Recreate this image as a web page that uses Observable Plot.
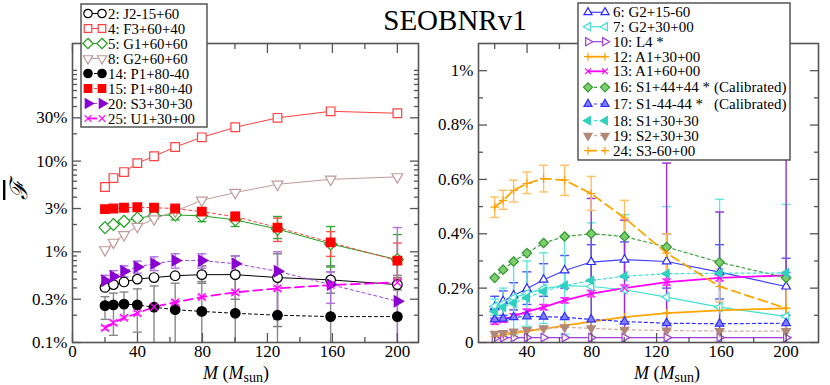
<!DOCTYPE html>
<html><head><meta charset="utf-8">
<script src="https://cdn.jsdelivr.net/npm/d3@7"></script>
<script src="https://cdn.jsdelivr.net/npm/@observablehq/plot@0.6"></script>
<style>
body{margin:0;background:#fff;}
#wrap{position:relative;width:830px;height:385px;overflow:hidden;background:#fff;}
</style></head><body><div id="wrap"></div>
<script>
// ---------- data ----------
const M = [20, 25.2, 31.7, 39.9, 50.2, 63.2, 79.6, 100.2, 126.2, 158.9, 200];

// left panel (percent, log scale)
const f2    = [0.405,0.435,0.465,0.50,0.52,0.545,0.56,0.56,0.52,0.49,0.435];
const f2lo  = [null,null,null,null,null,null,0.45,0.30,0.15,0.35,0.38];
const f2hi  = [null,null,null,null,null,null,0.70,0.90,0.95,0.70,0.52];
const f4    = [5.18,6.5,7.57,9.5,11.3,14.3,18.3,23.6,30.0,35.4,33.7];
const f5    = [1.85,2.0,2.17,2.35,2.5,2.55,2.49,2.25,1.78,1.22,0.82];
const f5lo  = [null,null,null,2.2,2.3,2.25,2.15,1.9,1.4,0.68,0.45];
const f5hi  = [null,null,null,2.5,2.7,2.8,2.75,2.6,2.45,1.9,1.55];
const f8    = [1.05,1.27,1.54,1.9,2.3,2.8,3.7,4.5,5.55,6.3,6.7];
const f14   = [0.255,0.26,0.265,0.26,0.245,0.23,0.22,0.21,0.20,0.193,0.193];
const f14lo = [0.18,0.12,0.18,0.13,0.08,0.08,0.08,0.08,0.08,0.08,0.08];
const f14hi = [0.32,0.35,0.36,0.39,0.42,0.45,0.47,0.53,0.55,0.60,0.55];
const f15   = [2.95,3.0,3.06,3.1,3.06,3.0,2.77,2.44,1.85,1.27,0.80];
const f15lo = [null,null,null,null,null,null,null,2.15,1.3,0.89,0.5];
const f15hi = [null,null,null,null,null,null,null,2.75,2.35,1.67,1.25];
const f20   = [0.48,0.535,0.61,0.68,0.74,0.80,0.80,0.74,0.61,0.435,0.285];
const f20lo = [0.42,0.47,0.53,0.58,0.62,0.66,0.66,0.60,0.18,0.27,0.08];
const f20hi = [0.55,0.62,0.70,0.79,0.88,0.95,0.95,0.90,1.0,0.60,1.85];
const f25   = [0.145,0.165,0.187,0.21,0.247,0.277,0.318,0.357,0.395,0.43,0.46];
const f25lo = [0.138,0.157,0.178,0.20,0.235,0.264,0.303,0.34,0.376,0.41,0.44];
const f25hi = [0.152,0.173,0.196,0.22,0.259,0.29,0.333,0.374,0.414,0.45,0.48];

// right panel (percent, linear)
const g6    = [0.13,0.152,0.173,0.198,0.231,0.265,0.296,0.305,0.298,0.259,0.206];
const g6lo  = [0.09,0.10,0.12,0.14,0.17,0.20,0.23,0.24,0.20,0.16,0.10];
const g6hi  = [0.17,0.19,0.22,0.26,0.29,0.32,0.36,0.37,0.40,0.36,0.31];
const g7    = [0.133,0.142,0.165,0.18,0.198,0.209,0.206,0.194,0.167,0.13,0.096];
const g7lo  = [0.10,0.09,0.03,0.06,0.07,0.03,0,0,0,0,0];
const g7hi  = [0.16,0.20,0.30,0.30,0.33,0.39,0.44,0.47,0.50,0.527,0.508];
const g10   = [0.015,0.018,0.018,0.018,0.018,0.018,0.018,0.018,0.018,0.018,0.018];
const g10lo = [null,null,null,null,null,null,0,0,0,0,0];
const g10hi = [null,null,null,null,null,null,0.53,0.45,0.66,0.48,1.2];
const g12   = [0.022,0.028,0.035,0.042,0.05,0.062,0.077,0.093,0.108,0.118,0.126];
const g13   = [0.075,0.083,0.096,0.114,0.13,0.155,0.18,0.20,0.222,0.238,0.247];
const g13lo = [0.067,0.074,0.087,0.105,0.12,0.145,0.168,0.188,0.21,0.226,0.236];
const g13hi = [0.083,0.092,0.105,0.123,0.14,0.165,0.192,0.212,0.234,0.25,0.258];
const g16   = [0.238,0.268,0.298,0.329,0.366,0.39,0.40,0.39,0.351,0.295,0.238];
const g17   = [0.085,0.088,0.093,0.096,0.095,0.093,0.085,0.077,0.071,0.069,0.071];
const g18   = [0.114,0.13,0.145,0.165,0.188,0.209,0.228,0.244,0.253,0.255,0.256];
const g19   = [0.032,0.035,0.04,0.046,0.052,0.056,0.052,0.047,0.044,0.042,0.042];
const g24   = [0.498,0.523,0.56,0.585,0.603,0.597,0.548,0.458,0.329,0.206,0.126];
const g24lo = [0.46,0.49,0.517,0.548,0.554,0.541,0.486,0.388,0.254,0.15,0.05];
const g24hi = [0.535,0.56,0.597,0.627,0.652,0.652,0.611,0.523,0.40,0.27,0.20];

const leftTicksY = [0.1, 0.3, 1, 3, 10, 30];
const leftMinorY = [0.2,0.4,0.5,0.6,0.7,0.8,0.9,2,4,5,6,7,8,9,20,40,50,60,70,80,90,100];
const leftTicksX = [0, 40, 80, 120, 160, 200];
const leftMinorX = [20, 60, 100, 140, 180];
const rightTicksY = [0, 0.2, 0.4, 0.6, 0.8, 1];
const rightMinorY = [0.1, 0.3, 0.5, 0.7, 0.9];
const rightTicksX = [40, 80, 120, 160, 200];
const rightMinorX = [20, 60, 100, 140, 180];

// ---------- symbols ----------
function tri(rot){return {draw(c,s){const R=Math.sqrt(s/Math.PI)*1.3;for(let k=0;k<3;k++){const a=rot+k*2*Math.PI/3,x=R*Math.cos(a),y=R*Math.sin(a);k?c.lineTo(x,y):c.moveTo(x,y);}c.closePath();}};}
const SYM = {
  circle:{draw(c,s){const r=Math.sqrt(s/Math.PI);c.moveTo(r,0);c.arc(0,0,r,0,2*Math.PI);}},
  square:{draw(c,s){const r=Math.sqrt(s/Math.PI)*0.9;c.rect(-r,-r,2*r,2*r);}},
  diamond:{draw(c,s){const r=Math.sqrt(s/Math.PI)*1.25;c.moveTo(0,-r);c.lineTo(r,0);c.lineTo(0,r);c.lineTo(-r,0);c.closePath();}},
  up:tri(-Math.PI/2), down:tri(Math.PI/2), left:tri(Math.PI), right:tri(0),
  times:{draw(c,s){const r=Math.sqrt(s/Math.PI)*0.8;c.moveTo(-r,-r);c.lineTo(r,r);c.moveTo(r,-r);c.lineTo(-r,r);}},
  plus:{draw(c,s){const r=Math.sqrt(s/Math.PI)*1.1;c.moveTo(-r,0);c.lineTo(r,0);c.moveTo(0,-r);c.lineTo(0,r);}},
  cap:{draw(c){c.moveTo(-4.5,0);c.lineTo(4.5,0);}}
};

// ---------- series styling ----------
const leftSeries = [
  {name:"2: J2-15+60",  v:f2,  lo:f2lo,  hi:f2hi,  sym:"circle", stroke:"#000",    fill:"#fff",    line:"#000",    dash:null,  lw:1,   err:"#777"},
  {name:"4: F3+60+40",  v:f4,  sym:"square", stroke:"#ff4040", fill:"#fff", line:"#ff4040", dash:null, lw:1, err:"#ff6666"},
  {name:"5: G1+60+60",  v:f5,  lo:f5lo,  hi:f5hi,  sym:"diamond",stroke:"#22a022", fill:"#fff",    line:"#22a022", dash:null,  lw:1,   err:"#33aa33"},
  {name:"8: G2+60+60",  v:f8,  sym:"down", stroke:"#c09a9a", fill:"#fff", line:"#c09a9a", dash:null, lw:1, err:"#c09a9a"},
  {name:"14: P1+80-40", v:f14, lo:f14lo, hi:f14hi, sym:"circle", stroke:"#000",    fill:"#000",    line:"#000",    dash:"3,3", lw:1,   err:"#888"},
  {name:"15: P1+80+40", v:f15, lo:f15lo, hi:f15hi, sym:"square", stroke:"#ff0000", fill:"#ff0000", line:"#ff4040", dash:"3,3", lw:1,   err:"#ff5050"},
  {name:"20: S3+30+30", v:f20, lo:f20lo, hi:f20hi, sym:"right",  stroke:"#8a00d0", fill:"#8a00d0", line:"#a040e0", dash:"3,3", lw:1,   err:"#b070e0"},
  {name:"25: U1+30+00", v:f25, lo:f25lo, hi:f25hi, sym:"times",  stroke:"#ff00ff", fill:"none",    line:"#ff00ff", dash:"9,5", lw:1.8, err:"#ff60ff"}
];
const rightSeries = [
  {name:"6: G2+15-60",  v:g6,  lo:g6lo,  hi:g6hi,  sym:"up",     stroke:"#2a2aff", fill:"#fff",    line:"#4040ff", dash:null,  lw:1.2, err:"#5050ff"},
  {name:"7: G2+30+00",  v:g7,  lo:g7lo,  hi:g7hi,  sym:"left",   stroke:"#40e0d0", fill:"#fff",    line:"#40e0d0", dash:null,  lw:1.2, err:"#60e8dc"},
  {name:"10: L4 *",     v:g10, lo:g10lo, hi:g10hi, sym:"right",  stroke:"#a040d8", fill:"#fff",    line:"#a040d8", dash:null,  lw:1.2, err:"#9a30d0"},
  {name:"12: A1+30+00", v:g12, sym:"plus", stroke:"#ffa000", fill:"none", line:"#ffa500", dash:null, lw:1.8, err:"#ffb030"},
  {name:"13: A1+60+00", v:g13, lo:g13lo, hi:g13hi, sym:"times",  stroke:"#ff00ff", fill:"none",    line:"#ff00ff", dash:null,  lw:1.8, err:"#ff40ff"},
  {name:"16: S1+44+44 *", cal:true, v:g16, sym:"diamond", stroke:"#2e9a2e", fill:"#80cc70", line:"#40a040", dash:"3,3", lw:1.2, err:"#40a040"},
  {name:"17: S1-44-44 *", cal:true, v:g17, sym:"up",      stroke:"#3030ff", fill:"#8080ff", line:"#3030ff", dash:"3,3", lw:1.2, err:"#5050ff"},
  {name:"18: S1+30+30", v:g18, sym:"left", stroke:"#30d0c0", fill:"#30d0c0", line:"#40e0d0", dash:"3,3", lw:1.2, err:"#40e0d0"},
  {name:"19: S2+30+30", v:g19, sym:"down", stroke:"#b08878", fill:"#b08878", line:"#d0a8a0", dash:"3,3", lw:1.2, err:"#b08878"},
  {name:"24: S3-60+00", v:g24, lo:g24lo, hi:g24hi, sym:"plus",   stroke:"#ffa000", fill:"none",    line:"#ffa500", dash:"9,5", lw:1.8, err:"#ffc060"}
];

function rowsOf(s){return M.map((m,i)=>({M:m, v:s.v[i], lo:s.lo?s.lo[i]:null, hi:s.hi?s.hi[i]:null}));}

function seriesMarks(list, r){
  const errs=[], lines=[], dots=[];
  for(const s of list){
    const rows=rowsOf(s);
    const er=rows.filter(d=>d.lo!=null&&d.hi!=null);
    if(er.length){
      errs.push(Plot.ruleX(er,{x:"M",y1:"lo",y2:"hi",stroke:s.err,strokeWidth:1.4,clip:true}));
      errs.push(Plot.dot(er,{x:"M",y:"lo",symbol:SYM.cap,r:3,stroke:s.err,strokeWidth:1.4,clip:true}));
      errs.push(Plot.dot(er,{x:"M",y:"hi",symbol:SYM.cap,r:3,stroke:s.err,strokeWidth:1.4,clip:true}));
    }
    lines.push(Plot.line(rows,{x:"M",y:"v",stroke:s.line,strokeWidth:s.lw,strokeDasharray:s.dash||undefined}));
    dots.push(Plot.dot(rows,{x:"M",y:"v",symbol:SYM[s.sym],r:r,stroke:s.stroke,fill:s.fill,strokeWidth:1.2}));
  }
  return [...errs,...lines,...dots];
}

function axes(tx, mx, ty, my, fmt){
  const blank=()=>"";
  const tk={stroke:"#555",strokeWidth:1.3,label:null,tickFormat:blank};
  return [
    Plot.axisX({ticks:tx,anchor:"bottom",tickSize:-9,...tk}),
    Plot.axisX({ticks:mx,anchor:"bottom",tickSize:-5,...tk}),
    Plot.axisX({ticks:tx,anchor:"top",tickSize:-9,...tk}),
    Plot.axisX({ticks:mx,anchor:"top",tickSize:-5,...tk}),
    Plot.axisY({ticks:ty,anchor:"left",tickSize:-9,...tk}),
    Plot.axisY({ticks:my,anchor:"left",tickSize:-5,...tk}),
    Plot.axisY({ticks:ty,anchor:"right",tickSize:-9,...tk}),
    Plot.axisY({ticks:my,anchor:"right",tickSize:-5,...tk}),
    Plot.axisX({ticks:tx,anchor:"bottom",tickSize:0,tickPadding:2,label:null,fontSize:17}),
    Plot.axisY({ticks:ty,anchor:"left",tickSize:0,tickPadding:5,label:null,fontSize:17,tickFormat:fmt}),
    Plot.frame({stroke:"#555",strokeWidth:1.6})
  ];
}

const baseStyle={fontFamily:"'Liberation Serif','Times New Roman',serif",fontSize:"17px",color:"#000",background:"transparent",overflow:"visible"};

const leftPlot = Plot.plot({
  width:430, height:385, marginLeft:72, marginRight:12, marginTop:43, marginBottom:43,
  style:baseStyle,
  x:{domain:[0,213]},
  y:{type:"log", domain:[0.1,198]},
  marks:[...seriesMarks(leftSeries,4.8), ...axes(leftTicksX,leftMinorX,leftTicksY,leftMinorY,d=>d+"%")]
});
const rightPlot = Plot.plot({
  width:400, height:385, marginLeft:48, marginRight:12, marginTop:43, marginBottom:43,
  style:baseStyle,
  x:{domain:[10,220]},
  y:{domain:[0,1.1]},
  marks:[...seriesMarks(rightSeries,3.8), ...axes(rightTicksX,rightMinorX,rightTicksY,rightMinorY,d=>d===0?"0":d+"%")]
});
const wrap=document.getElementById("wrap");
for(const [p,l] of [[leftPlot,0],[rightPlot,430]]){p.style.position="absolute";p.style.left=l+"px";p.style.top="0px";wrap.appendChild(p);}

// ---------- overlay: title, labels, legends ----------
const ov=d3.select(wrap).append("svg").attr("width",830).attr("height",385)
  .style("position","absolute").style("left","0px").style("top","0px")
  .style("font-family","'Liberation Serif','Times New Roman',serif");
ov.append("text").attr("x",455).attr("y",30).attr("text-anchor","middle").attr("font-size",29).text("SEOBNRv1");
for(const cx of [236,667]){
  const t=ov.append("text").attr("x",cx).attr("y",379).attr("text-anchor","middle").attr("font-size",18);
  t.append("tspan").attr("font-style","italic").text("M");
  t.append("tspan").text(" (");
  t.append("tspan").attr("font-style","italic").text("M");
  t.append("tspan").attr("font-size",14).attr("dy",3).text("sun");
  t.append("tspan").attr("dy",-3).text(")");
}
ov.append("text").attr("transform","translate(27,190) rotate(-90)").attr("text-anchor","middle")
  .attr("font-size",24).attr("font-family","'DejaVu Serif',serif").attr("font-style","italic")
  .attr("text-decoration","overline").text("ℱ");

function legend(list, box, rowsY, mx1, mx2, tx, fs, r, calX){
  ov.append("rect").attr("x",box[0]).attr("y",box[1]).attr("width",box[2]).attr("height",box[3])
    .attr("fill","#fff").attr("stroke","#555").attr("stroke-width",1.5);
  list.forEach((s,i)=>{
    const y=rowsY[i];
    ov.append("line").attr("x1",mx1).attr("x2",mx2).attr("y1",y).attr("y2",y)
      .attr("stroke",s.line).attr("stroke-width",s.lw).attr("stroke-dasharray",s.dash||null);
    const p=d3.symbol().type(SYM[s.sym]).size(r*r*Math.PI)();
    for(const x of [mx1,mx2]) ov.append("path").attr("d",p).attr("transform",`translate(${x},${y})`)
      .attr("stroke",s.stroke).attr("fill",s.fill).attr("stroke-width",1.2);
    ov.append("text").attr("x",tx).attr("y",y).attr("dy","0.34em").attr("font-size",fs).text(s.name);
    if(s.cal) ov.append("text").attr("x",calX).attr("y",y).attr("dy","0.34em").attr("font-size",fs).text("(Calibrated)");
  });
}
legend(leftSeries,[81,4,126,123],[13.5,28.5,43.5,58.5,73.5,88.5,103.5,118.5],88,102,108,14.8,4.2,0);
legend(rightSeries,[578,3,212,157],[12.3,26.7,41.7,56.7,71.3,87.3,104,120.7,135.7,150.7],588,605,613,15,3.6,714);
</script></body></html>
